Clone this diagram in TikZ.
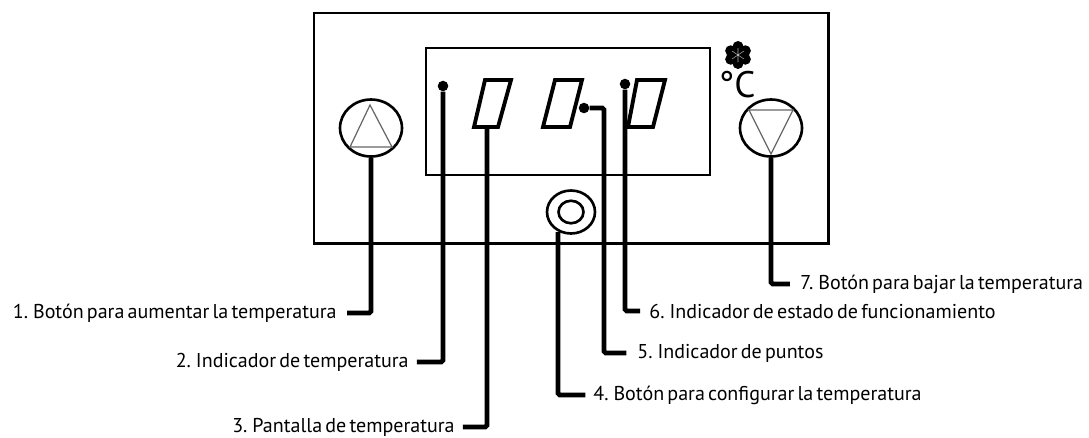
\documentclass[tikz,border=0pt]{standalone}
\usepackage{fontspec}
\setmainfont[WordSpace=0.6]{PT Sans}
\usetikzlibrary{shapes.geometric}
\tikzset{
  panel/.style={draw,line width=1.7pt},
  segment/.style={draw,line width=2.2pt,line join=miter},
  roundbtn/.style={draw,ellipse,line width=1.5pt,inner sep=0pt,minimum width=1.24cm,minimum height=1.14cm},
  leader/.style={line width=2.7pt,rounded corners=1pt},
  leaderdot/.style={circle,fill=black,inner sep=0pt,minimum size=6pt},
  tag/.style={inner sep=0pt,font=\fontsize{11.4}{13}\selectfont}
}
\begin{document}
\begin{tikzpicture}[x=0.02cm,y=-0.02cm]
  \useasboundingbox (0,0) rectangle (1089,437);
  % panel and display
  \draw[panel] (314,13) rectangle (828,243);
  \draw[panel,line width=1.5pt] (426,48) rectangle (710,175);
  % buttons
  \node[roundbtn] (btnup) at (371,128) {};
  \node[roundbtn] (btndown) at (771,128) {};
  \node[roundbtn,minimum width=0.96cm,minimum height=0.86cm] (btnset) at (571,212) {};
  \node[roundbtn,minimum width=0.5cm,minimum height=0.45cm] at (571,212) {};
  \draw[gray!80!black,line width=0.7pt] (370,105)--(350,147)--(392,147)--cycle;
  \draw[gray!80!black,line width=0.7pt] (749,110)--(793,110)--(771,154)--cycle;
  % digits
  \draw[segment] (485,80)--(511,80)--(498,127)--(474,127)--cycle;
  \draw[segment] (555,80)--(582,80)--(570,127)--(543,127)--cycle;
  \draw[segment] (637,80)--(665,80)--(653,127)--(628,127)--cycle;
  \coordinate (digfoot) at (487,127);
  \coordinate (setfoot) at (558,232);
  % fan and degrees
  \foreach \a in {30,90,...,330} {
    \fill (738,55) ++(\a:8.5) circle (5.5);
  }
  \fill (738,55) circle (6);
  \draw[gray!60,line width=0.3pt] (732,51)--(744,59) (732,59)--(744,51) (738,48)--(738,62);
  \node[inner sep=0pt,font=\fontsize{21}{24}\selectfont] (degC) at (737,85) {°C};
  % indicators
  \node[leaderdot] (dottemp) at (443,86) {};
  \node[leaderdot] (dotpts) at (584,108) {};
  \node[leaderdot] (dotstate) at (625,84) {};
  % labels
  \node[tag,anchor=east] (lab1) at (337,313) {1. Botón para aumentar la temperatura};
  \node[tag,anchor=east] (lab2) at (409,362) {2. Indicador de temperatura};
  \node[tag,anchor=east] (lab3) at (455,427) {3. Pantalla de temperatura};
  \node[tag,anchor=west] (lab4) at (593,395) {4. Botón para configurar la temperatura};
  \node[tag,anchor=west] (lab5) at (637,353) {5. Indicador de puntos};
  \node[tag,anchor=west] (lab6) at (649,311) {6. Indicador de estado de funcionamiento};
  \node[tag,anchor=west] (lab7) at (800,284) {7. Botón para bajar la temperatura};
  % leaders
  \draw[leader] (btnup.south) |- ([xshift=5.7pt]lab1.east);
  \draw[leader] (dottemp) |- ([xshift=4.5pt]lab2.east);
  \draw[leader] (digfoot) |- ([xshift=4.5pt]lab3.east);
  \draw[leader] (setfoot) |- ([xshift=-4.3pt]lab4.west);
  \draw[leader] (dotpts) -| (604,353) -- ([xshift=-6pt]lab5.west);
  \draw[leader] (dotstate) |- ([xshift=-5pt]lab6.west);
  \draw[leader] (btndown.south) |- ([xshift=-5.7pt]lab7.west);
\end{tikzpicture}
\end{document}
